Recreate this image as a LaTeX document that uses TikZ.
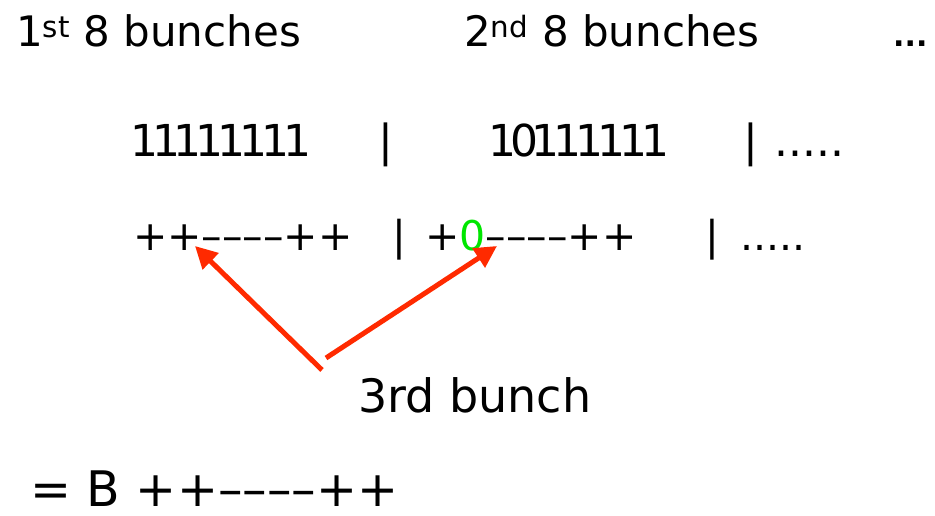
\documentclass[tikz,border=0pt]{standalone}
\usepackage{fontspec}
\setmainfont{DejaVu Sans}
\newfontfamily\tightones[LetterSpace=-14]{DejaVu Sans}
\usetikzlibrary{arrows.meta}
\definecolor{arrowred}{RGB}{255,42,0}
\definecolor{zerogreen}{RGB}{0,230,0}
\tikzset{
  txt/.style={anchor=base west, inner sep=0pt},
  head/.style={txt, font=\fontsize{42}{50}\selectfont},
  rowone/.style={txt, font=\fontsize{44}{52}\selectfont},
  rowtwo/.style={txt, font=\fontsize{41}{50}\selectfont},
  redarrow/.style={draw=arrowred, line width=5pt, -{Triangle[length=22pt,width=22pt]}}
}
\begin{document}
\begin{tikzpicture}[x=1pt,y=-1pt]
\useasboundingbox (0,0) rectangle (935,516);
% headings
\node[head] (h1) at (16,47) {1\textsuperscript{st} 8 bunches};
\node[head] (h2) at (464,47) {2\textsuperscript{nd} 8 bunches};
\node[txt, font=\fontsize{30}{38}\selectfont\bfseries] (h3) at (893,47) {...};
% row 1
\node[rowone] (r1a) at (130,157) {\tightones 11111111};
\node[rowone] (r1b) at (378,157) {|};
\node[rowone] (r1c) at (488,157) {\tightones 10111111};
\node[rowone] (r1d) at (743,157) {|};
\node[rowone] (r1e) at (774,157) {.....};
% row 2
\node[rowtwo] (r2a) at (133,250) {++––––++};
\node[rowtwo] (r2b) at (392,250) {|};
\node[rowtwo] (r2c) at (425,250) {+\textcolor{zerogreen}{0}––––++};
\node[rowtwo] (r2d) at (705,250) {|};
\node[rowtwo] (r2e) at (740,250) {.....};
% label
\node[txt, font=\fontsize{46}{54}\selectfont] (lab) at (358,412) {3rd bunch};
\node[txt, font=\fontsize{49}{58}\selectfont] (res) at (30,506) {= B ++––––++};
% arrows
\coordinate (t1) at (322,370);
\coordinate (t2) at (326,358);
\coordinate (h1a) at (195,246);
\coordinate (h2a) at (497,246);
\draw[redarrow] (t1) -- (h1a);
\draw[redarrow] (t2) -- (h2a);
\end{tikzpicture}
\end{document}
